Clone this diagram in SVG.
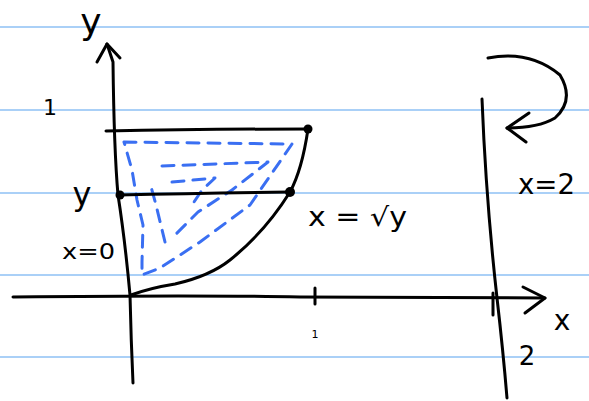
<svg xmlns="http://www.w3.org/2000/svg" width="589" height="401" viewBox="0 0 589 401">
<style>
.rule{stroke:#aad0f7;stroke-width:2;fill:none}
.ink{stroke:#000;stroke-width:3;fill:none;stroke-linecap:round;stroke-linejoin:round}
.blue{stroke:#3a6ff2;stroke-width:3;fill:none;stroke-linecap:round;stroke-linejoin:round;stroke-dasharray:12 9}
.lbl{font-family:"DejaVu Sans",sans-serif;fill:#000}
</style>
<rect width="589" height="401" fill="#fff"/>
<g id="paper-lines">
<line class="rule" x1="0" y1="27" x2="589" y2="27"/>
<line class="rule" x1="0" y1="110" x2="589" y2="110"/>
<line class="rule" x1="0" y1="193" x2="589" y2="193"/>
<line class="rule" x1="0" y1="275" x2="589" y2="275"/>
<line class="rule" x1="0" y1="357" x2="589" y2="357"/>
</g>
<g id="shading">
<path class="blue" d="M124,142 L292,144 L250,205 L200,242 L160,268 L142,275 L142,262 L143,225 L137,200 L132,170 Z"/>
<path class="blue" d="M162,166 L268,162 L232,190 L198,212 L172,238 M165,242 L156,205 L150,183"/>
<path class="blue" d="M172,182 L215,178 L202,190 L190,208"/>
</g>
<g id="connectors">
<path id="y-axis" class="ink" d="M133,383 Q131,340 130,295 Q125,240 118,195 Q114,150 113,62 L107,44"/>
<path id="y-arrow" class="ink" d="M97,62 L107,44 L120,58"/>
<path id="x-axis" class="ink" d="M13,297 Q200,295 300,297 Q420,297 545,298"/>
<path id="x-arrow" class="ink" d="M523,287 L545,298 L525,313"/>
<path id="tick1" class="ink" d="M315,288 L315,304"/>
<path id="tick2" class="ink" d="M493,293 L493,315"/>
<path id="line-x2" class="ink" d="M482,99 Q486,200 497,298 Q503,350 507,398"/>
<path id="top-line" class="ink" d="M106,131 Q200,129 308,129"/>
<path id="slice-line" class="ink" d="M118,195 Q200,193 290,192"/>
<path id="curve" class="ink" d="M131,295 Q150,288 175,284 Q210,276 230,260 Q265,232 290,192 Q302,170 308,129"/>
<path id="rotate-arrow" class="ink" d="M488,58 Q530,50 560,75 Q575,100 555,118 Q538,128 507,128"/>
<path id="rotate-head" class="ink" d="M529,113 L507,128 L526,142"/>
<circle cx="308" cy="129" r="4.5" fill="#000"/>
<circle cx="120" cy="195" r="4.5" fill="#000"/>
<circle cx="290" cy="192" r="5" fill="#000"/>
</g>
<g id="labels">
<text class="lbl" x="91" y="34" font-size="36" text-anchor="middle">y</text>
<text class="lbl" x="50" y="115" font-size="22" text-anchor="middle">1</text>
<text class="lbl" x="82" y="205" font-size="32" text-anchor="middle">y</text>
<text class="lbl" x="62" y="259" font-size="22" textLength="53" lengthAdjust="spacingAndGlyphs">x=0</text>
<text class="lbl" x="308" y="226" font-size="26" textLength="99" lengthAdjust="spacingAndGlyphs">x = √y</text>
<text class="lbl" x="518" y="194" font-size="28" textLength="57" lengthAdjust="spacingAndGlyphs">x=2</text>
<text class="lbl" x="562" y="330" font-size="28" text-anchor="middle">x</text>
<text class="lbl" x="527" y="365" font-size="26" text-anchor="middle">2</text>
<text class="lbl" x="315" y="338" font-size="11" text-anchor="middle">1</text>
</g>
</svg>
